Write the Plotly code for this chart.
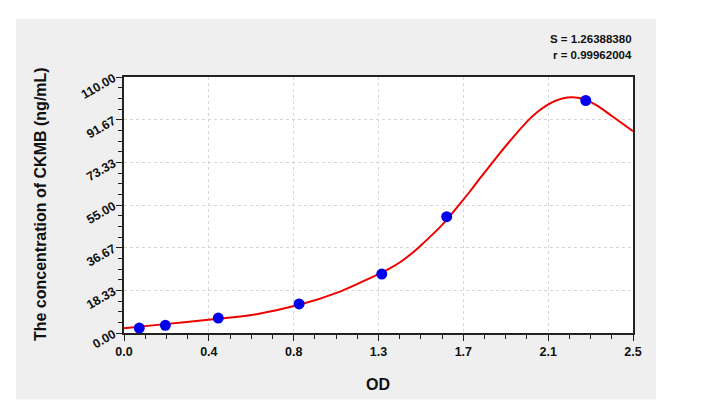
import plotly.graph_objects as go

# Standard points
od_points = [0.075, 0.203, 0.463, 0.860, 1.266, 1.585, 2.268]
conc_points = [2.1, 3.3, 6.4, 12.5, 25.3, 50.0, 99.9]

# Fitted curve
curve_od = [0.0, 0.177, 0.414, 0.619, 0.860, 1.061, 1.208, 1.257, 1.306, 1.356, 1.405,
            1.454, 1.503, 1.552, 1.585, 1.650, 1.699, 1.748, 1.831, 1.912, 1.994, 2.035,
            2.076, 2.117, 2.158, 2.199, 2.235, 2.268, 2.322, 2.403, 2.5]
curve_conc = [2.0, 3.6, 5.7, 7.6, 12.1, 17.8, 23.6, 25.6, 27.8, 30.4, 33.6,
              37.3, 41.3, 45.5, 48.6, 55.5, 60.8, 66.4, 75.6, 84.2, 92.1, 95.3,
              97.8, 99.7, 100.9, 101.3, 101.0, 100.2, 97.8, 92.8, 86.7]

x_tickvals = [0, 2.5 / 6, 2 * 2.5 / 6, 3 * 2.5 / 6, 4 * 2.5 / 6, 5 * 2.5 / 6, 2.5]
x_ticktext = ["0.0", "0.4", "0.8", "1.3", "1.7", "2.1", "2.5"]
y_tickvals = [0, 110 / 6, 2 * 110 / 6, 3 * 110 / 6, 4 * 110 / 6, 5 * 110 / 6, 110]
y_ticktext = ["0.00", "18.33", "36.67", "55.00", "73.33", "91.67", "110.00"]

stat_lines = ["S = 1.26388380", "r = 0.99962004"]
x_title = "OD"
y_title = "The concentration of CKMB (ng/mL)"

W, H = 702, 413
L, R, T, B = 124, 633, 76.5, 333.3
pw, ph = R - L, B - T

def px_x(p):
    return (p - L) / pw

def px_y(p):
    return (B - p) / ph

fig = go.Figure()
fig.add_trace(go.Scatter(x=curve_od, y=curve_conc, mode="lines",
                         line=dict(color="#ee0000", width=2, shape="spline", smoothing=1.0),
                         showlegend=False, hoverinfo="skip"))
fig.add_trace(go.Scatter(x=od_points, y=conc_points, mode="markers",
                         marker=dict(color="#0000ee", size=11, line=dict(width=0)),
                         showlegend=False))

tickfont = dict(family="Liberation Sans, Arial, sans-serif", size=12.5, color="#111111")

fig.update_layout(
    width=W, height=H,
    margin=dict(l=L, r=W - R, t=T, b=H - B, pad=0),
    paper_bgcolor="white",
    plot_bgcolor="white",
    showlegend=False,
    xaxis=dict(range=[0, 2.5], tickmode="array", tickvals=x_tickvals,
               ticktext=["<b>" + t + "</b>" for t in x_ticktext],
               ticks="outside", ticklen=6, tickwidth=1.2, tickcolor="#222",
               showline=True, linecolor="#222", linewidth=1.5, mirror=True,
               showgrid=True, gridcolor="#d6d6d6", griddash="dot", gridwidth=1,
               zeroline=False, tickfont=tickfont,
               minor=dict(ticks="outside", ticklen=4, tickcolor="#222", tick0=0,
                          dtick=2.5 / 24, showgrid=False)),
    yaxis=dict(range=[0, 110], tickmode="array", tickvals=y_tickvals,
               ticktext=["<b>" + t + "</b>" for t in y_ticktext],
               ticks="outside", ticklen=6, tickwidth=1.2, tickcolor="#222",
               showline=True, linecolor="#222", linewidth=1.5, mirror=True,
               showgrid=True, gridcolor="#d6d6d6", griddash="dot", gridwidth=1,
               zeroline=False, tickfont=tickfont, tickangle=-30,
               minor=dict(ticks="outside", ticklen=4, tickcolor="#222", tick0=0,
                          dtick=110 / 24, showgrid=False)),
)

fig.add_shape(type="rect", xref="paper", yref="paper", layer="below",
              x0=px_x(16), x1=px_x(656), y0=px_y(400), y1=px_y(18),
              fillcolor="#efefef", line=dict(width=0))
fig.add_shape(type="rect", xref="paper", yref="paper", layer="below",
              x0=0, x1=1, y0=0, y1=1,
              fillcolor="white", line=dict(width=0))

fig.add_annotation(text="<b>" + y_title + "</b>", xref="paper", yref="paper",
                   x=px_x(40), y=px_y(204), textangle=-90, showarrow=False,
                   font=dict(family="Liberation Sans, Arial, sans-serif", size=16, color="#111"),
                   xanchor="center", yanchor="middle")
fig.add_annotation(text="<b>" + x_title + "</b>", xref="paper", yref="paper",
                   x=px_x(378), y=px_y(385), showarrow=False,
                   font=dict(family="Liberation Sans, Arial, sans-serif", size=16, color="#111"),
                   xanchor="center", yanchor="middle")
for i, s in enumerate(stat_lines):
    fig.add_annotation(text="<b>" + s + "</b>", xref="paper", yref="paper",
                       x=px_x(634), y=px_y(38 + 16 * i), showarrow=False,
                       font=dict(family="Liberation Sans Narrow, Arial Narrow, Liberation Sans, sans-serif",
                                 size=11.5, color="#111"),
                       xanchor="right", yanchor="middle")

fig.write_html("out.html", config={"displayModeBar": False},
               post_script="document.body.style.margin='0';document.body.style.overflow='hidden';")
